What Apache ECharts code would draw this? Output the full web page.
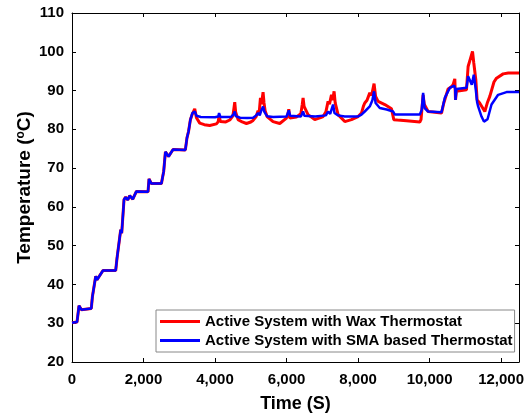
<!DOCTYPE html>
<html>
<head>
<meta charset="utf-8">
<script src="https://cdn.jsdelivr.net/npm/echarts@6/dist/echarts.min.js"></script>
<style>
  html, body { margin: 0; padding: 0; background: #fff; }
  #chart { width: 525px; height: 414px; }
</style>
</head>
<body>
<div id="chart"></div>
<script>
// 共同的升温段 (两条曲线在 3300 s 之前基本重合)
const rampTime = [0, 140, 196, 263, 540, 570, 610, 663, 700, 867, 1222, 1259, 1300, 1362, 1390, 1455, 1500, 1560, 1614, 1700, 1801, 2126, 2154, 2220, 2500, 2565, 2612, 2700, 2826, 3170, 3215, 3260, 3311]
const rampTemp = [30.1, 30.3, 34.5, 33.5, 33.8, 36.8, 37.0, 42.1, 41.2, 43.6, 43.6, 46.8, 47.0, 54.1, 53.2, 61.9, 62.5, 61.8, 62.9, 62.0, 64.0, 63.9, 67.2, 66.0, 66.0, 69.2, 74.2, 73.0, 74.8, 74.7, 77.8, 79.5, 82.5]

// 蜡式节温器
const waxTime = [3367, 3400, 3432, 3480, 3572, 3700, 3852, 4039, 4090, 4113, 4150, 4179, 4300, 4411, 4500, 4530, 4551, 4575, 4644, 4760, 4878, 5000, 5064, 5150, 5203, 5230, 5270, 5300, 5343, 5370, 5400, 5455, 5622, 5810, 5997, 6040, 6062, 6090, 6276, 6400, 6440, 6462, 6490, 6600, 6789, 6950, 7021, 7100, 7161, 7200, 7256, 7290, 7329, 7360, 7441, 7628, 7815, 8000, 8095, 8150, 8187, 8250, 8327, 8380, 8447, 8490, 8560, 8747, 8934, 8980, 8999, 9100, 9354, 9726, 9760, 9819, 9850, 9958, 10333, 10397, 10517, 10600, 10657, 10705, 10725, 10750, 11031, 11077, 11150, 11200, 11236, 11292, 11329, 11400, 11544, 11620, 11684, 11800, 11871, 12056, 12200, 12500]
const waxTemp = [84.0, 84.3, 85.3, 83.0, 81.6, 81.2, 81.0, 81.4, 82.0, 83.5, 82.0, 81.6, 81.9, 82.4, 83.5, 85.5, 87.0, 84.5, 82.5, 81.9, 81.5, 81.9, 82.3, 83.3, 84.8, 83.8, 88.1, 86.5, 89.6, 86.8, 84.8, 83.3, 82.0, 81.5, 82.9, 84.0, 85.2, 82.9, 83.2, 84.0, 86.5, 88.1, 85.9, 83.8, 82.5, 83.0, 83.3, 84.5, 87.2, 86.5, 88.9, 87.5, 89.8, 86.8, 83.8, 82.0, 82.5, 83.3, 84.2, 86.0, 86.8, 87.5, 89.4, 88.8, 91.8, 88.5, 87.2, 86.4, 85.3, 85.0, 82.5, 82.4, 82.2, 81.9, 82.5, 88.9, 86.5, 84.6, 84.2, 86.8, 90.4, 90.9, 91.5, 93.0, 87.6, 89.8, 90.2, 96.2, 98.5, 100.1, 97.1, 92.8, 87.6, 86.8, 84.6, 87.0, 88.5, 92.2, 93.2, 94.3, 94.5, 94.5]

// SMA 节温器
const smaTime = [3367, 3400, 3432, 3480, 3600, 4000, 4090, 4113, 4150, 4450, 4530, 4551, 4580, 4700, 4900, 5064, 5150, 5203, 5250, 5300, 5343, 5380, 5455, 5622, 6000, 6062, 6100, 6400, 6462, 6500, 6800, 7100, 7161, 7220, 7301, 7340, 7441, 7628, 8000, 8095, 8187, 8327, 8400, 8447, 8490, 8607, 8800, 8980, 9027, 9726, 9780, 9819, 9860, 9958, 10333, 10425, 10565, 10690, 10715, 10725, 10750, 11032, 11077, 11120, 11180, 11236, 11292, 11329, 11357, 11452, 11520, 11572, 11620, 11731, 11916, 12151, 12500]
const smaTemp = [84.2, 84.6, 84.6, 83.5, 83.2, 83.1, 83.3, 84.2, 83.2, 83.2, 84.0, 84.6, 83.4, 83.0, 82.9, 83.0, 83.6, 84.2, 83.6, 85.0, 85.9, 84.5, 83.4, 83.2, 83.3, 84.9, 83.5, 83.3, 84.6, 83.5, 83.3, 83.6, 84.6, 84.0, 86.4, 84.2, 83.6, 83.3, 83.3, 83.8, 84.6, 85.9, 87.5, 89.8, 86.8, 85.5, 85.1, 84.6, 83.8, 83.8, 85.0, 89.4, 85.5, 84.6, 84.4, 88.1, 90.7, 91.3, 90.5, 87.6, 90.4, 90.7, 93.7, 93.9, 91.5, 94.1, 90.2, 87.0, 85.9, 83.3, 82.0, 81.8, 82.6, 86.4, 88.9, 89.6, 89.6]

const seriesNames = ['Active System with Wax Thermostat', 'Active System with SMA based Thermostat']

const toPairs = (ts, vs) => ts.map((t, i) => [t, vs[i]])
const waxData = toPairs(rampTime.concat(waxTime), rampTemp.concat(waxTemp))
const smaData = toPairs(rampTime.concat(smaTime), rampTemp.concat(smaTemp))

const font = 'Liberation Sans, Arial, sans-serif'

const chart = echarts.init(document.getElementById('chart'))

const xCommon = {
  type: 'value',
  min: 0,
  max: 12500,
  interval: 2000,
  splitLine: { show: false },
  axisLine: { show: true, onZero: false, lineStyle: { color: '#000', width: 1 } },
  axisTick: { show: true, inside: true, length: 4, lineStyle: { color: '#000' } }
}
const yCommon = {
  type: 'value',
  min: 20,
  max: 110,
  interval: 10,
  splitLine: { show: false },
  axisLine: { show: true, onZero: false, lineStyle: { color: '#000', width: 1 } },
  axisTick: { show: true, inside: true, length: 4, lineStyle: { color: '#000' } }
}

const option = {
  animation: false,
  backgroundColor: '#fff',
  grid: { left: 72, right: 6, top: 13, bottom: 52, containLabel: false, outerBoundsMode: 'none' },
  xAxis: [
    {
      ...xCommon,
      position: 'bottom',
      name: 'Time (S)',
      nameLocation: 'middle',
      nameGap: 33,
      nameMoveOverlap: false,
      nameTextStyle: { fontFamily: font, fontSize: 18, fontWeight: 'bold', color: '#000' },
      axisLabel: {
        margin: 10,
        fontFamily: font, fontSize: 15, fontWeight: 'bold', color: '#000',
        showMaxLabel: false,
        formatter: v => (v % 2000 === 0 ? v.toLocaleString('en-US') : '')
      }
    },
    { ...xCommon, position: 'top', axisLabel: { show: false } }
  ],
  yAxis: [
    {
      ...yCommon,
      position: 'left',
      name: '{n|Temperature (}{sup|o}{n|C)}',
      nameLocation: 'middle',
      nameRotate: 90,
      nameGap: 38,
      nameMoveOverlap: false,
      nameTextStyle: {
        fontFamily: font, fontSize: 19, fontWeight: 'bold', color: '#000',
        rich: {
          n: { fontFamily: font, fontSize: 19, fontWeight: 'bold', color: '#000', lineHeight: 19, verticalAlign: 'middle' },
          sup: { fontFamily: font, fontSize: 12, fontWeight: 'bold', color: '#000', lineHeight: 8, verticalAlign: 'top' }
        }
      },
      axisLabel: { margin: 8, fontFamily: font, fontSize: 15, fontWeight: 'bold', color: '#000' }
    },
    { ...yCommon, position: 'right', axisLabel: { show: false } }
  ],
  legend: {
    data: seriesNames,
    orient: 'vertical',
    left: 156,
    top: 310,
    padding: [4, 2, 4, 4],
    itemGap: 4,
    itemWidth: 40,
    itemHeight: 3,
    icon: 'rect',
    backgroundColor: '#fff',
    borderColor: '#888',
    borderWidth: 1,
    borderRadius: 0,
    textStyle: { fontFamily: font, fontSize: 15, fontWeight: 'bold', color: '#000', lineHeight: 15 }
  },
  series: [
    {
      name: seriesNames[0],
      type: 'line',
      data: waxData,
      symbol: 'none',
      color: '#ff0000',
      lineStyle: { color: '#ff0000', width: 3 },
      z: 2
    },
    {
      name: seriesNames[1],
      type: 'line',
      data: smaData,
      symbol: 'none',
      color: '#0000ff',
      lineStyle: { color: '#0000ff', width: 2.5 },
      z: 3
    }
  ]
}

chart.setOption(option)
</script>
</body>
</html>
